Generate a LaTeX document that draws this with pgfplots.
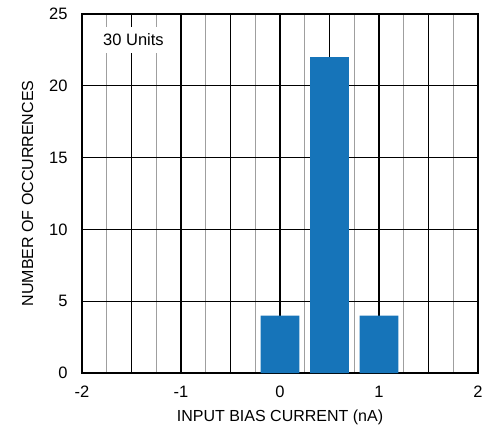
\documentclass[border=0pt]{standalone}
\usepackage{fontspec}
\setmainfont{Liberation Sans}
\usepackage{pgfplots}
\pgfplotsset{compat=1.18}
\definecolor{barblue}{RGB}{22,116,185}

\begin{document}
\begin{tikzpicture}
  \begin{axis}[
      name=ax,
      scale only axis,
      width=396pt,
      height=359pt,
      xmin=-2, xmax=2,
      ymin=0, ymax=25,
      xtick={-2,-1.5,...,2},
      xticklabels={-2,,-1,,0,,1,,2},
      minor xtick={-1.75,-1.25,...,1.75},
      ytick={0,5,...,25},
      /pgf/number format/assume math mode=true,
      tick style={draw=none},
      grid=both,
      major grid style={black, line width=1.2pt},
      minor grid style={gray!75, line width=1.1pt},
      axis line style={line width=2pt},
      ticklabel style={font=\fontsize{16.5}{18}\selectfont},
      xticklabel style={yshift=-5pt},
      yticklabel style={xshift=-11pt},
      xlabel={INPUT BIAS CURRENT (nA)},
      ylabel={NUMBER OF OCCURRENCES},
      label style={font=\fontsize{16}{18}\selectfont},
      xlabel style={yshift=-6pt},
      ylabel style={yshift=9pt},
      ybar, bar width=0.39,
    ]
    \addplot[fill=barblue, draw=none, bar shift=0pt] coordinates {
      (0,4) (0.5,22) (1,4)
    };
    \node[fill=white, inner xsep=10pt, inner ysep=7pt,
          font=\fontsize{16.5}{18}\selectfont]
      at (axis cs:-1.48,23.2) {30 Units};
  \end{axis}
  \pgfresetboundingbox
  \useasboundingbox ([xshift=-82pt,yshift=-62pt]ax.south west)
    rectangle ([xshift=5pt,yshift=14pt]ax.north east);
\end{tikzpicture}
\end{document}
